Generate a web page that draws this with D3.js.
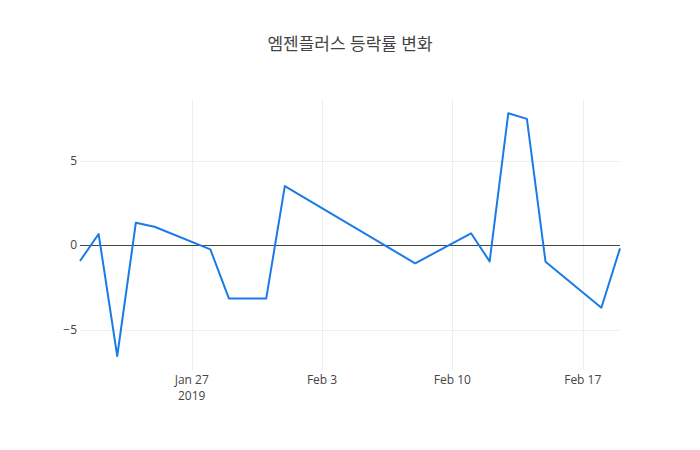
<!DOCTYPE html>
<html>
<head>
<meta charset="utf-8">
<script src="https://cdn.jsdelivr.net/npm/d3@7"></script>
<style>
  body { margin: 0; background: #fff; }
  svg text { font-family: "Open Sans", "Noto Sans CJK KR", sans-serif; fill: #444; }
</style>
</head>
<body>
<div id="chart"></div>
<script>
// trading days and daily change (%)
var dates = ["2019-01-21","2019-01-22","2019-01-23","2019-01-24","2019-01-25",
  "2019-01-28","2019-01-29","2019-01-31","2019-02-01","2019-02-08",
  "2019-02-11","2019-02-12","2019-02-13","2019-02-14","2019-02-15",
  "2019-02-18","2019-02-19"];
var changes = [-0.93, 0.67, -6.56, 1.34, 1.10,
  -0.24, -3.16, -3.16, 3.51, -1.07,
  0.71, -0.95, 7.82, 7.49, -0.97,
  -3.70, -0.18];
var yTicks = [-5, 0, 5];
var xTicks = ["2019-01-27", "2019-02-03", "2019-02-10", "2019-02-17"];
var xTickLabels = ["Jan 27", "Feb 3", "Feb 10", "Feb 17"];
var title = "엠젠플러스 등락률 변화";

var svgWidth = 700, svgHeight = 450;
var margin = { top: 100, right: 80, bottom: 80, left: 80 };
var w = svgWidth - margin.left - margin.right;
var h = svgHeight - margin.top - margin.bottom;

var parse = d3.timeParse("%Y-%m-%d");
var data = dates.map(function(d, i) { return { date: parse(d), value: changes[i] }; });

var svg = d3.select("#chart").append("svg")
  .attr("width", svgWidth)
  .attr("height", svgHeight);

var g = svg.append("g")
  .attr("transform", `translate(${margin.left}, ${margin.top})`);

var x = d3.scaleTime()
  .domain(d3.extent(data, d => d.date))
  .range([0, w]);

var y = d3.scaleLinear()
  .domain([-7.39, 8.61])
  .range([h, 0]);

// crisp 1px lines
var px = v => Math.round(v) + 0.5;

// grid lines
g.selectAll(".xgrid")
  .data(xTicks)
  .enter()
  .append("line")
  .attr("x1", d => px(x(parse(d))))
  .attr("x2", d => px(x(parse(d))))
  .attr("y1", 0)
  .attr("y2", h)
  .attr("stroke", "#eee")
  .attr("stroke-width", 1);

g.selectAll(".ygrid")
  .data(yTicks.filter(d => d !== 0))
  .enter()
  .append("line")
  .attr("x1", 0)
  .attr("x2", w)
  .attr("y1", d => px(y(d)))
  .attr("y2", d => px(y(d)))
  .attr("stroke", "#eee")
  .attr("stroke-width", 1);

// zero line
g.append("line")
  .attr("x1", 0)
  .attr("x2", w)
  .attr("y1", px(y(0)))
  .attr("y2", px(y(0)))
  .attr("stroke", "#444")
  .attr("stroke-width", 1);

// y tick labels
g.selectAll(".ylab")
  .data(yTicks)
  .enter()
  .append("text")
  .attr("x", -3)
  .attr("y", d => y(d))
  .attr("dy", "0.35em")
  .attr("text-anchor", "end")
  .style("font-size", "12px")
  .text(d => d < 0 ? "\u2212" + Math.abs(d) : d);

// x tick labels
g.selectAll(".xlab")
  .data(xTicks)
  .enter()
  .append("text")
  .attr("x", d => x(parse(d)))
  .attr("y", h + 14)
  .attr("text-anchor", "middle")
  .style("font-size", "12px")
  .text((d, i) => xTickLabels[i]);

g.append("text")
  .attr("x", x(parse(xTicks[0])))
  .attr("y", h + 30)
  .attr("text-anchor", "middle")
  .style("font-size", "12px")
  .text("2019");

// the line
var line = d3.line()
  .x(d => x(d.date))
  .y(d => y(d.value));

g.append("path")
  .datum(data)
  .attr("d", line)
  .attr("fill", "none")
  .attr("stroke", "#1a7be6")
  .attr("stroke-width", 2)
  .attr("stroke-linejoin", "round");

// title
svg.append("text")
  .attr("x", svgWidth / 2)
  .attr("y", 50)
  .attr("text-anchor", "middle")
  .style("font-size", "17px")
  .text(title);
</script>
</body>
</html>
